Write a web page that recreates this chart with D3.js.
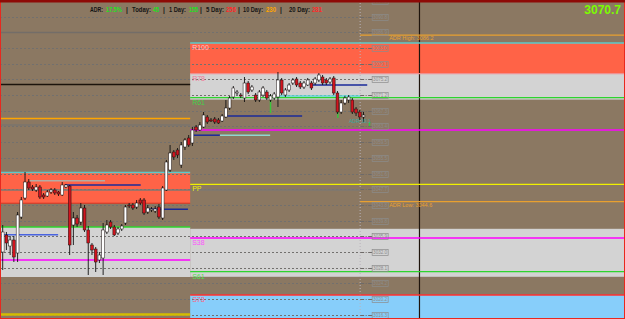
<!DOCTYPE html>
<html>
<head>
<meta charset="utf-8">
<script src="https://d3js.org/d3.v7.min.js"></script>
<style>
  body { margin: 0; background: #fff; }
  svg { display: block; }
  text { font-family: "Liberation Sans", Arial, sans-serif; }
</style>
</head>
<body>
<div id="chart"></div>
<script>
var width = 625, height = 319;

// candles, one row per bar: [open, high, low, close]
var ohlc = [
  [3032.0, 3038.75, 3027.5, 3037.0], [3036.25, 3037.0, 3032.5, 3034.25], [3033.5, 3036.0, 3031.25, 3035.0],
  [3035.0, 3036.0, 3029.5, 3030.75], [3031.75, 3042.0, 3029.5, 3041.25], [3040.75, 3045.75, 3040.25, 3045.0],
  [3045.5, 3052.0, 3045.0, 3049.5], [3049.5, 3050.25, 3047.5, 3048.0], [3048.25, 3048.75, 3047.25, 3047.75],
  [3047.5, 3049.0, 3047.0, 3048.25], [3048.25, 3048.75, 3045.25, 3045.75], [3046.25, 3046.75, 3045.25, 3045.75],
  [3046.0, 3047.5, 3045.75, 3047.0], [3047.0, 3048.0, 3046.5, 3047.5], [3047.5, 3048.0, 3046.25, 3046.75],
  [3047.0, 3047.25, 3046.0, 3046.5], [3046.25, 3049.5, 3046.0, 3048.75], [3048.25, 3049.0, 3048.0, 3048.75],
  [3048.5, 3048.75, 3031.25, 3033.75], [3038.75, 3042.0, 3033.75, 3040.5], [3040.5, 3041.25, 3038.25, 3039.0],
  [3039.5, 3044.25, 3038.75, 3043.0], [3043.0, 3043.75, 3037.0, 3037.5], [3037.5, 3038.5, 3026.25, 3034.25],
  [3033.75, 3034.25, 3031.25, 3032.5], [3032.75, 3033.25, 3027.0, 3029.5], [3030.0, 3032.0, 3029.25, 3031.25],
  [3030.5, 3039.25, 3026.25, 3037.5], [3037.0, 3040.0, 3036.5, 3038.75], [3039.5, 3040.0, 3037.75, 3038.25],
  [3038.25, 3038.75, 3036.0, 3036.25], [3036.75, 3038.25, 3036.25, 3037.75], [3037.75, 3039.0, 3037.25, 3038.5],
  [3039.25, 3043.75, 3038.75, 3043.25], [3043.75, 3044.25, 3043.0, 3043.5], [3043.75, 3044.25, 3042.5, 3043.0],
  [3043.25, 3045.0, 3042.75, 3044.25], [3045.0, 3045.5, 3043.75, 3044.25], [3045.0, 3045.5, 3041.25, 3041.75],
  [3042.0, 3043.75, 3041.5, 3043.0], [3042.5, 3043.25, 3042.0, 3042.75], [3042.25, 3043.5, 3041.75, 3042.75],
  [3043.25, 3044.0, 3040.25, 3040.75], [3040.5, 3048.5, 3040.0, 3048.0], [3047.5, 3055.0, 3047.25, 3054.5],
  [3052.5, 3058.75, 3052.0, 3056.75], [3057.0, 3057.5, 3055.0, 3055.75], [3057.5, 3058.0, 3055.5, 3056.25],
  [3053.75, 3059.5, 3053.0, 3058.75], [3058.25, 3060.5, 3057.5, 3060.0], [3060.5, 3061.25, 3058.25, 3058.75],
  [3059.25, 3063.25, 3058.5, 3062.5], [3063.25, 3063.75, 3062.0, 3062.5], [3062.5, 3064.5, 3062.25, 3063.75],
  [3063.25, 3067.0, 3063.0, 3066.25], [3065.75, 3066.25, 3064.0, 3064.5], [3065.0, 3065.5, 3064.5, 3064.75],
  [3065.25, 3065.75, 3064.0, 3064.5], [3065.0, 3065.5, 3064.0, 3064.25], [3064.75, 3066.5, 3064.5, 3066.0],
  [3065.75, 3070.0, 3065.5, 3068.0], [3068.0, 3071.0, 3067.5, 3070.5], [3070.75, 3073.5, 3070.25, 3073.0],
  [3071.75, 3072.5, 3071.25, 3072.0], [3071.25, 3071.75, 3070.5, 3071.0], [3070.5, 3075.75, 3069.5, 3074.25],
  [3074.25, 3074.75, 3071.5, 3072.0], [3072.5, 3073.75, 3072.0, 3073.25], [3071.25, 3071.75, 3069.5, 3070.0],
  [3070.0, 3072.5, 3069.5, 3072.0], [3071.25, 3073.5, 3070.75, 3073.0], [3072.0, 3072.5, 3070.0, 3070.5],
  [3070.0, 3071.5, 3069.5, 3071.0], [3070.5, 3072.0, 3070.0, 3071.5], [3070.75, 3077.0, 3068.25, 3075.0],
  [3075.0, 3075.5, 3071.25, 3071.75], [3071.25, 3073.0, 3070.75, 3072.5], [3072.5, 3074.25, 3072.0, 3073.75],
  [3074.25, 3075.5, 3073.75, 3075.0], [3075.25, 3075.75, 3073.25, 3073.75], [3074.25, 3074.75, 3072.75, 3073.25],
  [3073.25, 3074.75, 3072.75, 3074.25], [3073.75, 3075.5, 3073.5, 3075.0], [3074.25, 3074.75, 3072.5, 3073.0],
  [3074.25, 3075.75, 3073.75, 3075.25], [3075.0, 3076.75, 3074.5, 3076.25], [3075.75, 3076.25, 3073.75, 3074.25],
  [3075.0, 3075.5, 3073.75, 3074.25], [3074.5, 3075.75, 3074.0, 3075.25], [3075.5, 3076.0, 3071.25, 3071.75],
  [3071.75, 3072.25, 3066.5, 3067.0], [3067.0, 3070.0, 3066.5, 3069.25], [3069.25, 3071.0, 3068.75, 3070.5],
  [3070.0, 3071.25, 3069.25, 3070.75], [3070.0, 3070.5, 3066.5, 3067.0], [3067.75, 3068.25, 3066.0, 3066.75],
  [3067.0, 3067.5, 3065.0, 3065.75], [3065.75, 3067.0, 3064.5, 3066.25]
];

// price labels on the dashed grid
var gridTicks = [3094.8, 3090.8, 3086.9, 3083.0, 3079.1, 3075.2, 3071.2, 3067.3, 3063.4, 3059.5,
                 3055.5, 3051.6, 3047.7, 3043.8, 3039.8, 3035.9, 3032.0, 3028.1, 3024.2, 3020.2, 3016.3];

// session split (bar index), current bar, future time line
var splitIndex = 50.4, nowIndex = 96.1, futureIndex = 112.05;

// zones: [top, bottom, colour]
var prevZones = [[3051.9, 3044.2, "#ff6347"], [3038.25, 3025.75, "#d3d3d3"]];
var todayZones = [[3084.25, 3076.6, "#ff6347"], [3076.6, 3070.1, "#d3d3d3"],
                  [3037.8, 3025.8, "#d3d3d3"], [3021.25, 3015.0, "#87cefa"]];

// previous session levels: [price, colour, stroke width]
var prevLevels = [[3086.9, "#736d68", 1.5], [3073.9, "#1c140c", 1.5], [3065.4, "#ffa500", 1.5],
                  [3063.75, "#7a746e", 1.5], [3051.9, "#5ccaca", 1.5], [3044.2, "#e0301e", 1],
                  [3038.25, "#2ed42e", 1.5], [3030.0, "#ff00ff", 1.5], [3016.4, "#d4bc00", 2.5]];

// today pivot levels: [price, colour, label, label colour]
var pivots = [[3084.25, "#5ccaca", "R100", "#ffc0c8"], [3076.6, "#f09090", "R78", "#f07898"],
              [3070.6, "#2ed42e", "R61", "#48d048"], [3048.9, "#f0f000", "PP", "#f0f000"],
              [3035.5, "#ff00ff", "S38", "#ff50ff"], [3027.1, "#2ed42e", "S61", "#50e050"],
              [3021.25, "#ff3030", "S78", "#ff6080"]];
var midLine = 3062.5, grayLine = 3047.5;

// ADR projections
var adrNames = ["ADR High", "ADR Low"];
var adrValues = [3086.2, 3044.6];

// short lines: [price, from bar, to bar, colour]
var segments = [[3049.8, 7.3, 27.5, "#b4aca4"], [3048.75, 16.7, 37.1, "#1a2a9a"], [3042.7, 38.8, 49.8, "#1a2a9a"],
                [3036.3, -0.8, 14.9, "#4a64e0"], [3066.0, 60.0, 80.5, "#1a2a9a"], [3073.75, 82.6, 98.0, "#1a2a9a"],
                [3061.2, 51.2, 58.4, "#1a2a9a"], [3061.2, 58.4, 71.9, "#8fd8d0"], [3071.0, 74.0, 96.1, "#5fd8d8"]];

// green signal marks: [bar, top, bottom]
var signals = [[72, 3071.25, 3066.75], [90.1, 3070.5, 3065.5], [98.6, 3064.5, 3063.25]];

// header stats
var statNames = ["ADR:", "Today:", "1 Day:", "5 Day:", "10 Day:", "20 Day:"];
var statValues = ["17.5%", "45", "155", "256", "230", "281"];
var statColors = ["#1ee01e", "#1ee01e", "#1ee01e", "#ff2a2a", "#ffa500", "#ff2a2a"];
var lastPrice = 3070.7;

var svg = d3.select("#chart").append("svg")
  .attr("width", width)
  .attr("height", height);

var x = d3.scaleLinear().domain([0, 97]).range([2.7, 363.5]);
var y = d3.scaleLinear().domain([3095, 3015.25]).range([0, 319]);

var splitX = x(splitIndex), nowX = x(nowIndex), futureX = x(futureIndex);

svg.append("rect").attr("width", width).attr("height", height).attr("fill", "#8b7862");

// zones
svg.selectAll(".pz").data(prevZones).enter().append("rect")
  .attr("x", 0).attr("width", splitX)
  .attr("y", function(d) { return y(d[0]); })
  .attr("height", function(d) { return y(d[1]) - y(d[0]); })
  .attr("fill", function(d) { return d[2]; });
svg.selectAll(".tz").data(todayZones).enter().append("rect")
  .attr("x", splitX).attr("width", width - splitX)
  .attr("y", function(d) { return y(d[0]); })
  .attr("height", function(d) { return y(d[1]) - y(d[0]); })
  .attr("fill", function(d) { return d[2]; });

// dashed grid
svg.selectAll(".grid").data(gridTicks).enter().append("line")
  .attr("x1", 0).attr("x2", nowX)
  .attr("y1", function(d) { return Math.round(y(d)) + 0.5; })
  .attr("y2", function(d) { return Math.round(y(d)) + 0.5; })
  .attr("stroke", "#72706e").attr("stroke-dasharray", "2,2");

// vertical lines
svg.append("line").attr("x1", nowX).attr("x2", nowX).attr("y1", 0).attr("y2", height)
  .attr("stroke", "#b9b3bd").attr("stroke-dasharray", "1,2");
svg.append("line").attr("x1", futureX).attr("x2", futureX).attr("y1", 0).attr("y2", height)
  .attr("stroke", "#1e140c").attr("stroke-width", 1.2);

// previous session levels
svg.selectAll(".pl").data(prevLevels).enter().append("line")
  .attr("x1", 0).attr("x2", splitX)
  .attr("y1", function(d) { return y(d[0]); })
  .attr("y2", function(d) { return y(d[0]); })
  .attr("stroke", function(d) { return d[1]; })
  .attr("stroke-width", function(d) { return d[2]; });

svg.append("line").attr("x1", 0).attr("x2", nowX).attr("y1", y(grayLine)).attr("y2", y(grayLine))
  .attr("stroke", "#7d7873").attr("stroke-width", 1.3);

// today pivots
svg.selectAll(".pv").data(pivots).enter().append("line")
  .attr("x1", splitX).attr("x2", width)
  .attr("y1", function(d) { return y(d[0]); })
  .attr("y2", function(d) { return y(d[0]); })
  .attr("stroke", function(d) { return d[1]; })
  .attr("stroke-width", 1.3);
svg.append("line").attr("x1", splitX).attr("x2", width).attr("y1", y(midLine)).attr("y2", y(midLine))
  .attr("stroke", "#ff00ff").attr("stroke-width", 1.5);

svg.selectAll(".pvl").data(pivots).enter().append("text")
  .attr("x", splitX + 2)
  .attr("y", function(d) { return y(d[0]) + 7; })
  .attr("font-size", "7px")
  .attr("fill", function(d) { return d[3]; })
  .text(function(d) { return d[2]; });

// ADR lines
adrValues.forEach(function(v, i) {
  svg.append("line").attr("x1", nowX).attr("x2", width).attr("y1", y(v)).attr("y2", y(v))
    .attr("stroke", "#e8a030").attr("stroke-width", 1.2);
  svg.append("text").attr("x", nowX + 29).attr("y", y(v) + 5)
    .attr("font-size", "5.5px").attr("fill", "#e8a030")
    .text(adrNames[i] + ": " + d3.format(".1f")(v));
});

// short segments
svg.selectAll(".seg").data(segments).enter().append("line")
  .attr("x1", function(d) { return Math.max(0, x(d[1])); })
  .attr("x2", function(d) { return x(d[2]); })
  .attr("y1", function(d) { return y(d[0]); })
  .attr("y2", function(d) { return y(d[0]); })
  .attr("stroke", function(d) { return d[3]; })
  .attr("stroke-width", 1.5);

svg.selectAll(".sig").data(signals).enter().append("line")
  .attr("x1", function(d) { return x(d[0]); })
  .attr("x2", function(d) { return x(d[0]); })
  .attr("y1", function(d) { return y(d[1]); })
  .attr("y2", function(d) { return y(d[2]); })
  .attr("stroke", "#3cc43c").attr("stroke-width", 1.5);

// candles
var candle = svg.selectAll(".candle").data(ohlc).enter().append("g");
candle.append("line")
  .attr("x1", function(d, i) { return x(i); })
  .attr("x2", function(d, i) { return x(i); })
  .attr("y1", function(d) { return y(d[1]); })
  .attr("y2", function(d) { return y(d[2]); })
  .attr("stroke", "#111").attr("stroke-width", 0.9);
candle.append("rect")
  .attr("x", function(d, i) { return x(i) - 1.4; })
  .attr("width", 2.8)
  .attr("y", function(d) { return y(Math.max(d[0], d[3])); })
  .attr("height", function(d) { return Math.max(1, Math.abs(y(d[0]) - y(d[3]))); })
  .attr("fill", function(d) { return d[3] >= d[0] ? "#ffffff" : "#d2141e"; })
  .attr("stroke", "#1a1010").attr("stroke-width", 0.5);

svg.append("text").attr("x", x(93.1)).attr("y", y(3064.2))
  .attr("font-size", "5px").attr("fill", "#38a8a0").text("ADR 30.1");

// grid price boxes
var box = svg.selectAll(".box").data(gridTicks).enter().append("g")
  .attr("transform", function(d) { return "translate(" + nowX + "," + (Math.round(y(d)) + 0.5) + ")"; });
box.append("line").attr("x1", 0).attr("x2", 12)
  .attr("stroke", "#6e6a68").attr("stroke-dasharray", "4,1.5,1,1.5");
box.append("rect").attr("x", 12).attr("y", -3).attr("width", 16).attr("height", 6)
  .attr("fill", "none").attr("stroke", "#8c8c8c").attr("stroke-width", 0.7);
box.append("text").attr("x", 20).attr("y", 1.8).attr("text-anchor", "middle")
  .attr("font-size", "4.6px").attr("fill", "#8c8c8c")
  .text(function(d) { return d3.format(".1f")(d); });

// header: names and values as separate texts, placed where the terminal prints them
var nameX = [90, 132, 169, 206, 243, 289], nameW = [13, 19, 17, 18, 20, 21];
var valX = [106, 153, 189, 226, 266, 312], valW = [16, 6, 9, 10, 10, 10];
var sepX = [126, 163, 200, 238, 280];
statNames.forEach(function(n, i) {
  svg.append("text").attr("x", nameX[i]).attr("y", 11.5)
    .attr("font-size", "6.5px").attr("font-weight", "bold").attr("fill", "#151515")
    .attr("textLength", nameW[i]).attr("lengthAdjust", "spacingAndGlyphs")
    .text(n);
  svg.append("text").attr("x", valX[i]).attr("y", 11.5)
    .attr("font-size", "6.5px").attr("font-weight", "bold").attr("fill", statColors[i])
    .attr("textLength", valW[i]).attr("lengthAdjust", "spacingAndGlyphs")
    .text(statValues[i]);
});
svg.selectAll(".sep").data(sepX).enter().append("text")
  .attr("x", function(d) { return d; }).attr("y", 11.5)
  .attr("font-size", "6.5px").attr("font-weight", "bold").attr("fill", "#151515").text("|");

svg.append("text").attr("x", 621).attr("y", 14).attr("text-anchor", "end")
  .attr("font-size", "12px").attr("font-weight", "bold").attr("fill", "#7cfc00")
  .text(d3.format(".1f")(lastPrice));

// frame
svg.append("rect").attr("x", 0.5).attr("y", 0.5).attr("width", width - 1).attr("height", height - 1)
  .attr("fill", "none").attr("stroke", "#e8281e");
svg.append("rect").attr("x", 0).attr("y", 0).attr("width", width).attr("height", 2.5).attr("fill", "#8e0a06");
</script>
</body>
</html>
